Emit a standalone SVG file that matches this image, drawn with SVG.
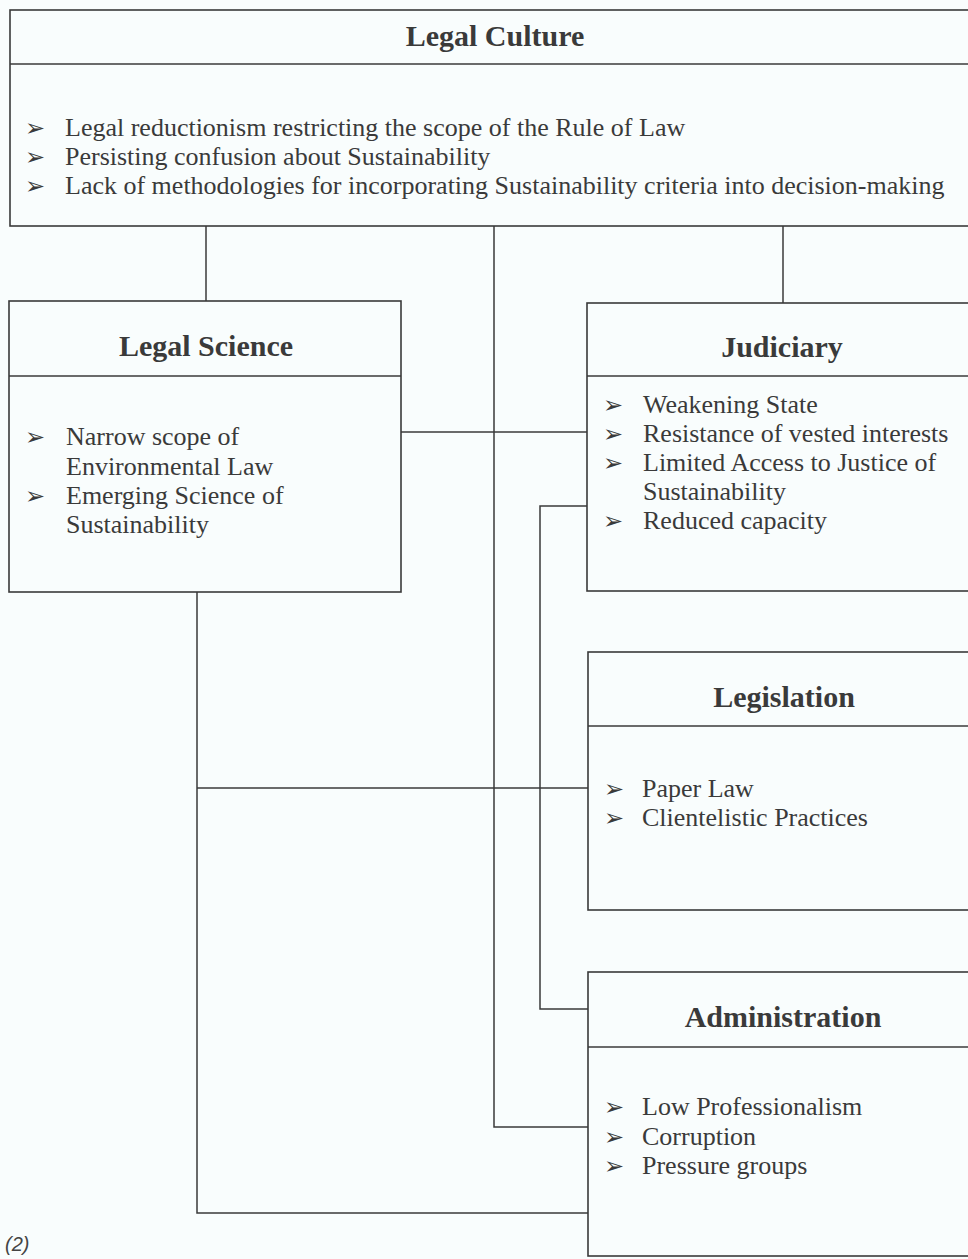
<svg xmlns="http://www.w3.org/2000/svg" width="968" height="1259" viewBox="0 0 968 1259">
<style>
.bg{fill:#f9fdfd}
.box{fill:none;stroke:#3a3a3a;stroke-width:1.6}
.ln{fill:none;stroke:#3a3a3a;stroke-width:1.5}
.h{font-family:"Liberation Serif","Times New Roman",serif;font-weight:bold;font-size:30px;fill:#3a3a3a;text-anchor:middle}
.t{font-family:"Liberation Serif","Times New Roman",serif;font-size:26px;fill:#3a3a3a}
.b{font-family:"DejaVu Sans",sans-serif;font-size:24px;fill:#3a3a3a}
.n{font-family:"Liberation Sans",Arial,sans-serif;font-style:italic;font-size:20px;fill:#444}
</style>
<rect class="bg" x="0" y="0" width="968" height="1259"/>
<g id="connectors">
<path class="ln" d="M206 226V301"/>
<path class="ln" d="M783 226V303"/>
<path class="ln" d="M494 226V1127H588"/>
<path class="ln" d="M401 432H587"/>
<path class="ln" d="M587 506H540V1009H588"/>
<path class="ln" d="M197 592V1213H588"/>
<path class="ln" d="M197 788H588"/>
</g>
<g id="legal-culture">
<rect class="box" x="10" y="10" width="970" height="216"/>
<path class="box" d="M10 64H980"/>
<text class="h" x="495" y="46">Legal Culture</text>
<text class="b" x="25" y="136">➢</text>
<text class="t" x="65" y="136">Legal reductionism restricting the scope of the Rule of Law</text>
<text class="b" x="25" y="165">➢</text>
<text class="t" x="65" y="165">Persisting confusion about Sustainability</text>
<text class="b" x="25" y="194">➢</text>
<text class="t" x="65" y="194">Lack of methodologies for incorporating Sustainability criteria into decision-making</text>
</g>
<g id="legal-science">
<rect class="box" x="9" y="301" width="392" height="291"/>
<path class="box" d="M9 376H401"/>
<text class="h" x="206" y="356">Legal Science</text>
<text class="b" x="25" y="445">➢</text>
<text class="t" x="66" y="445">Narrow scope of</text>
<text class="t" x="66" y="475">Environmental Law</text>
<text class="b" x="25" y="504">➢</text>
<text class="t" x="66" y="504">Emerging Science of</text>
<text class="t" x="66" y="533">Sustainability</text>
</g>
<g id="judiciary">
<rect class="box" x="587" y="303" width="393" height="288"/>
<path class="box" d="M587 376H980"/>
<text class="h" x="782" y="357">Judiciary</text>
<text class="b" x="603" y="413">➢</text>
<text class="t" x="643" y="413">Weakening State</text>
<text class="b" x="603" y="442">➢</text>
<text class="t" x="643" y="442">Resistance of vested interests</text>
<text class="b" x="603" y="471">➢</text>
<text class="t" x="643" y="471">Limited Access to Justice of</text>
<text class="t" x="643" y="500">Sustainability</text>
<text class="b" x="603" y="529">➢</text>
<text class="t" x="643" y="529">Reduced capacity</text>
</g>
<g id="legislation">
<rect class="box" x="588" y="652" width="392" height="258"/>
<path class="box" d="M588 726H980"/>
<text class="h" x="784" y="707">Legislation</text>
<text class="b" x="604" y="797">➢</text>
<text class="t" x="642" y="797">Paper Law</text>
<text class="b" x="604" y="826">➢</text>
<text class="t" x="642" y="826">Clientelistic Practices</text>
</g>
<g id="administration">
<rect class="box" x="588" y="972" width="392" height="284"/>
<path class="box" d="M588 1047H980"/>
<text class="h" x="783" y="1027">Administration</text>
<text class="b" x="604" y="1115">➢</text>
<text class="t" x="642" y="1115">Low Professionalism</text>
<text class="b" x="604" y="1145">➢</text>
<text class="t" x="642" y="1145">Corruption</text>
<text class="b" x="604" y="1174">➢</text>
<text class="t" x="642" y="1174">Pressure groups</text>
</g>
<text class="n" x="5" y="1251">(2)</text>
</svg>
